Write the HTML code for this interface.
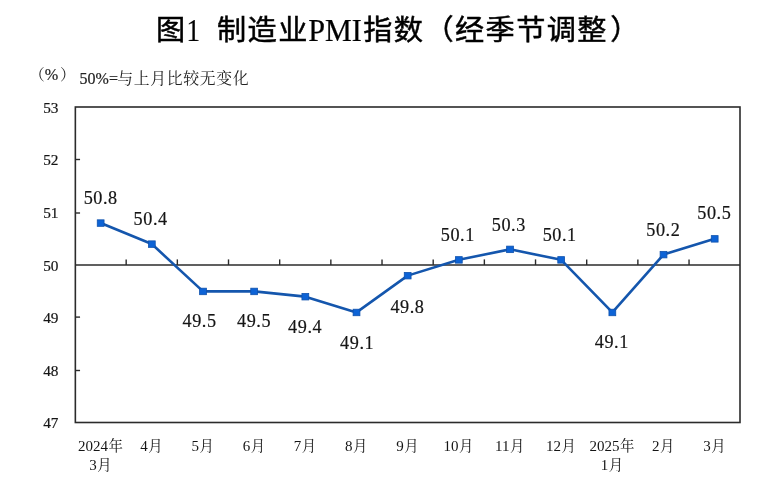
<!DOCTYPE html>
<html lang="zh"><head><meta charset="utf-8"><title>图1 制造业PMI指数（经季节调整）</title>
<style>html,body{margin:0;padding:0;background:#fff;overflow:hidden}svg{display:block}</style></head><body>
<svg width="783" height="482" viewBox="0 0 783 482" fill="#151515">
<rect width="783" height="482" fill="#fff"/>
<g font-size="29.2" font-weight="400" letter-spacing="1.4" fill="#000" stroke="#000" stroke-width="0.5" font-family='"Liberation Sans","Noto Sans CJK SC",sans-serif' transform="translate(0,42.4) scale(1,0.975) translate(0,-42.4)">
<text x="156.0" y="39.9">图</text>
<text x="186.6" y="40.5" fill="#000" font-family='"Liberation Serif","Noto Serif CJK SC",serif' stroke-width="0.25" letter-spacing="0" font-size="31.6" textLength="13.5" lengthAdjust="spacingAndGlyphs">1</text>
<text x="217.0" y="39.9">制造业</text>
<text x="308.3" y="40.5" fill="#000" font-family='"Liberation Serif","Noto Serif CJK SC",serif' stroke-width="0.25" letter-spacing="0" font-size="31.6" textLength="53.6" lengthAdjust="spacingAndGlyphs">PMI</text>
<text x="363.2" y="39.9">指数（经季节调整<tspan dx="2.2">）</tspan></text>
</g>
<text x="29.3" y="79.9" font-size="15.5" font-family='"Liberation Serif","Noto Serif CJK SC",serif' fill="#222">（<tspan font-size="16.2" stroke="#222" stroke-width="0.2">%</tspan><tspan dx="1.6">）</tspan></text>
<text x="79.6" y="83.9" font-size="16" font-family='"Liberation Serif","Noto Serif CJK SC",serif' fill="#222"><tspan stroke="#222" stroke-width="0.2">50%=</tspan><tspan font-size="15.9" letter-spacing="0.6" dx="-0.6">与上月比较无变化</tspan></text>
<rect x="75.35" y="107.0" width="664.65" height="315.50" fill="none" stroke="#2b2b2b" stroke-width="1.6"/>
<line x1="75.35" y1="265.00" x2="740.0" y2="265.00" stroke="#2b2b2b" stroke-width="1.5"/>
<text x="58.5" y="428.40" text-anchor="end" font-size="15.3" stroke="#151515" stroke-width="0.2" font-family='"Liberation Serif","Noto Serif CJK SC",serif'>47</text>
<line x1="75.35" y1="370.50" x2="80.05" y2="370.50" stroke="#2b2b2b" stroke-width="1.4"/>
<text x="58.5" y="375.82" text-anchor="end" font-size="15.3" stroke="#151515" stroke-width="0.2" font-family='"Liberation Serif","Noto Serif CJK SC",serif'>48</text>
<line x1="75.35" y1="317.10" x2="80.05" y2="317.10" stroke="#2b2b2b" stroke-width="1.4"/>
<text x="58.5" y="323.23" text-anchor="end" font-size="15.3" stroke="#151515" stroke-width="0.2" font-family='"Liberation Serif","Noto Serif CJK SC",serif'>49</text>
<text x="58.5" y="270.65" text-anchor="end" font-size="15.3" stroke="#151515" stroke-width="0.2" font-family='"Liberation Serif","Noto Serif CJK SC",serif'>50</text>
<line x1="75.35" y1="213.00" x2="80.05" y2="213.00" stroke="#2b2b2b" stroke-width="1.4"/>
<text x="58.5" y="218.07" text-anchor="end" font-size="15.3" stroke="#151515" stroke-width="0.2" font-family='"Liberation Serif","Noto Serif CJK SC",serif'>51</text>
<line x1="75.35" y1="159.50" x2="80.05" y2="159.50" stroke="#2b2b2b" stroke-width="1.4"/>
<text x="58.5" y="165.48" text-anchor="end" font-size="15.3" stroke="#151515" stroke-width="0.2" font-family='"Liberation Serif","Noto Serif CJK SC",serif'>52</text>
<text x="58.5" y="112.90" text-anchor="end" font-size="15.3" stroke="#151515" stroke-width="0.2" font-family='"Liberation Serif","Noto Serif CJK SC",serif'>53</text>
<line x1="126.17" y1="265.00" x2="126.17" y2="259.40" stroke="#2b2b2b" stroke-width="1.4"/>
<line x1="177.34" y1="265.00" x2="177.34" y2="259.40" stroke="#2b2b2b" stroke-width="1.4"/>
<line x1="228.51" y1="265.00" x2="228.51" y2="259.40" stroke="#2b2b2b" stroke-width="1.4"/>
<line x1="279.68" y1="265.00" x2="279.68" y2="259.40" stroke="#2b2b2b" stroke-width="1.4"/>
<line x1="330.85" y1="265.00" x2="330.85" y2="259.40" stroke="#2b2b2b" stroke-width="1.4"/>
<line x1="382.02" y1="265.00" x2="382.02" y2="259.40" stroke="#2b2b2b" stroke-width="1.4"/>
<line x1="433.19" y1="265.00" x2="433.19" y2="259.40" stroke="#2b2b2b" stroke-width="1.4"/>
<line x1="484.36" y1="265.00" x2="484.36" y2="259.40" stroke="#2b2b2b" stroke-width="1.4"/>
<line x1="535.53" y1="265.00" x2="535.53" y2="259.40" stroke="#2b2b2b" stroke-width="1.4"/>
<line x1="586.70" y1="265.00" x2="586.70" y2="259.40" stroke="#2b2b2b" stroke-width="1.4"/>
<line x1="637.87" y1="265.00" x2="637.87" y2="259.40" stroke="#2b2b2b" stroke-width="1.4"/>
<line x1="689.04" y1="265.00" x2="689.04" y2="259.40" stroke="#2b2b2b" stroke-width="1.4"/>
<polyline points="100.66,223.03 151.83,244.07 203.00,291.39 254.17,291.39 305.34,296.65 356.50,312.42 407.67,275.62 458.84,259.84 510.01,249.33 561.18,259.84 612.35,312.42 663.52,254.58 714.69,238.81" fill="none" stroke="#1456ad" stroke-width="2.6" stroke-linejoin="round"/>
<rect x="97.26" y="219.83" width="6.8" height="6.5" fill="#0d63d6" stroke="#0f52ad" stroke-width="0.8"/>
<rect x="148.43" y="240.87" width="6.8" height="6.5" fill="#0d63d6" stroke="#0f52ad" stroke-width="0.8"/>
<rect x="199.60" y="288.19" width="6.8" height="6.5" fill="#0d63d6" stroke="#0f52ad" stroke-width="0.8"/>
<rect x="250.77" y="288.19" width="6.8" height="6.5" fill="#0d63d6" stroke="#0f52ad" stroke-width="0.8"/>
<rect x="301.94" y="293.45" width="6.8" height="6.5" fill="#0d63d6" stroke="#0f52ad" stroke-width="0.8"/>
<rect x="353.11" y="309.22" width="6.8" height="6.5" fill="#0d63d6" stroke="#0f52ad" stroke-width="0.8"/>
<rect x="404.27" y="272.42" width="6.8" height="6.5" fill="#0d63d6" stroke="#0f52ad" stroke-width="0.8"/>
<rect x="455.44" y="256.64" width="6.8" height="6.5" fill="#0d63d6" stroke="#0f52ad" stroke-width="0.8"/>
<rect x="506.61" y="246.13" width="6.8" height="6.5" fill="#0d63d6" stroke="#0f52ad" stroke-width="0.8"/>
<rect x="557.78" y="256.64" width="6.8" height="6.5" fill="#0d63d6" stroke="#0f52ad" stroke-width="0.8"/>
<rect x="608.95" y="309.22" width="6.8" height="6.5" fill="#0d63d6" stroke="#0f52ad" stroke-width="0.8"/>
<rect x="660.12" y="251.38" width="6.8" height="6.5" fill="#0d63d6" stroke="#0f52ad" stroke-width="0.8"/>
<rect x="711.29" y="235.61" width="6.8" height="6.5" fill="#0d63d6" stroke="#0f52ad" stroke-width="0.8"/>
<text x="100.73" y="204.1" text-anchor="middle" font-size="18.2" letter-spacing="0.55" stroke="#151515" stroke-width="0.2" font-family='"Liberation Serif","Noto Serif CJK SC",serif'>50.8</text>
<text x="150.63" y="224.5" text-anchor="middle" font-size="18.2" letter-spacing="0.55" stroke="#151515" stroke-width="0.2" font-family='"Liberation Serif","Noto Serif CJK SC",serif'>50.4</text>
<text x="199.53" y="326.8" text-anchor="middle" font-size="18.2" letter-spacing="0.55" stroke="#151515" stroke-width="0.2" font-family='"Liberation Serif","Noto Serif CJK SC",serif'>49.5</text>
<text x="254.08" y="326.8" text-anchor="middle" font-size="18.2" letter-spacing="0.55" stroke="#151515" stroke-width="0.2" font-family='"Liberation Serif","Noto Serif CJK SC",serif'>49.5</text>
<text x="305.13" y="333.1" text-anchor="middle" font-size="18.2" letter-spacing="0.55" stroke="#151515" stroke-width="0.2" font-family='"Liberation Serif","Noto Serif CJK SC",serif'>49.4</text>
<text x="357.13" y="348.9" text-anchor="middle" font-size="18.2" letter-spacing="0.55" stroke="#151515" stroke-width="0.2" font-family='"Liberation Serif","Noto Serif CJK SC",serif'>49.1</text>
<text x="407.48" y="312.8" text-anchor="middle" font-size="18.2" letter-spacing="0.55" stroke="#151515" stroke-width="0.2" font-family='"Liberation Serif","Noto Serif CJK SC",serif'>49.8</text>
<text x="457.78" y="241.4" text-anchor="middle" font-size="18.2" letter-spacing="0.55" stroke="#151515" stroke-width="0.2" font-family='"Liberation Serif","Noto Serif CJK SC",serif'>50.1</text>
<text x="508.78" y="231.1" text-anchor="middle" font-size="18.2" letter-spacing="0.55" stroke="#151515" stroke-width="0.2" font-family='"Liberation Serif","Noto Serif CJK SC",serif'>50.3</text>
<text x="559.68" y="241.1" text-anchor="middle" font-size="18.2" letter-spacing="0.55" stroke="#151515" stroke-width="0.2" font-family='"Liberation Serif","Noto Serif CJK SC",serif'>50.1</text>
<text x="611.78" y="348.4" text-anchor="middle" font-size="18.2" letter-spacing="0.55" stroke="#151515" stroke-width="0.2" font-family='"Liberation Serif","Noto Serif CJK SC",serif'>49.1</text>
<text x="663.28" y="235.7" text-anchor="middle" font-size="18.2" letter-spacing="0.55" stroke="#151515" stroke-width="0.2" font-family='"Liberation Serif","Noto Serif CJK SC",serif'>50.2</text>
<text x="714.28" y="219.4" text-anchor="middle" font-size="18.2" letter-spacing="0.55" stroke="#151515" stroke-width="0.2" font-family='"Liberation Serif","Noto Serif CJK SC",serif'>50.5</text>
<text x="100.36" y="451.3" text-anchor="middle" font-size="15" font-family='"Liberation Serif","Noto Serif CJK SC",serif'>2024<tspan font-size="14.4" dx="0.5" dy="-0.5">年</tspan></text>
<text x="100.36" y="470.3" text-anchor="middle" font-size="15" font-family='"Liberation Serif","Noto Serif CJK SC",serif'>3<tspan font-size="14.4" dx="0.5" dy="-0.5">月</tspan></text>
<text x="151.53" y="451.3" text-anchor="middle" font-size="15" font-family='"Liberation Serif","Noto Serif CJK SC",serif'>4<tspan font-size="14.4" dx="0.5" dy="-0.5">月</tspan></text>
<text x="202.70" y="451.3" text-anchor="middle" font-size="15" font-family='"Liberation Serif","Noto Serif CJK SC",serif'>5<tspan font-size="14.4" dx="0.5" dy="-0.5">月</tspan></text>
<text x="253.87" y="451.3" text-anchor="middle" font-size="15" font-family='"Liberation Serif","Noto Serif CJK SC",serif'>6<tspan font-size="14.4" dx="0.5" dy="-0.5">月</tspan></text>
<text x="305.04" y="451.3" text-anchor="middle" font-size="15" font-family='"Liberation Serif","Noto Serif CJK SC",serif'>7<tspan font-size="14.4" dx="0.5" dy="-0.5">月</tspan></text>
<text x="356.20" y="451.3" text-anchor="middle" font-size="15" font-family='"Liberation Serif","Noto Serif CJK SC",serif'>8<tspan font-size="14.4" dx="0.5" dy="-0.5">月</tspan></text>
<text x="407.37" y="451.3" text-anchor="middle" font-size="15" font-family='"Liberation Serif","Noto Serif CJK SC",serif'>9<tspan font-size="14.4" dx="0.5" dy="-0.5">月</tspan></text>
<text x="458.54" y="451.3" text-anchor="middle" font-size="15" font-family='"Liberation Serif","Noto Serif CJK SC",serif'>10<tspan font-size="14.4" dx="0.5" dy="-0.5">月</tspan></text>
<text x="509.71" y="451.3" text-anchor="middle" font-size="15" font-family='"Liberation Serif","Noto Serif CJK SC",serif'>11<tspan font-size="14.4" dx="0.5" dy="-0.5">月</tspan></text>
<text x="560.88" y="451.3" text-anchor="middle" font-size="15" font-family='"Liberation Serif","Noto Serif CJK SC",serif'>12<tspan font-size="14.4" dx="0.5" dy="-0.5">月</tspan></text>
<text x="612.05" y="451.3" text-anchor="middle" font-size="15" font-family='"Liberation Serif","Noto Serif CJK SC",serif'>2025<tspan font-size="14.4" dx="0.5" dy="-0.5">年</tspan></text>
<text x="612.05" y="470.3" text-anchor="middle" font-size="15" font-family='"Liberation Serif","Noto Serif CJK SC",serif'>1<tspan font-size="14.4" dx="0.5" dy="-0.5">月</tspan></text>
<text x="663.22" y="451.3" text-anchor="middle" font-size="15" font-family='"Liberation Serif","Noto Serif CJK SC",serif'>2<tspan font-size="14.4" dx="0.5" dy="-0.5">月</tspan></text>
<text x="714.39" y="451.3" text-anchor="middle" font-size="15" font-family='"Liberation Serif","Noto Serif CJK SC",serif'>3<tspan font-size="14.4" dx="0.5" dy="-0.5">月</tspan></text>
</svg></body></html>
